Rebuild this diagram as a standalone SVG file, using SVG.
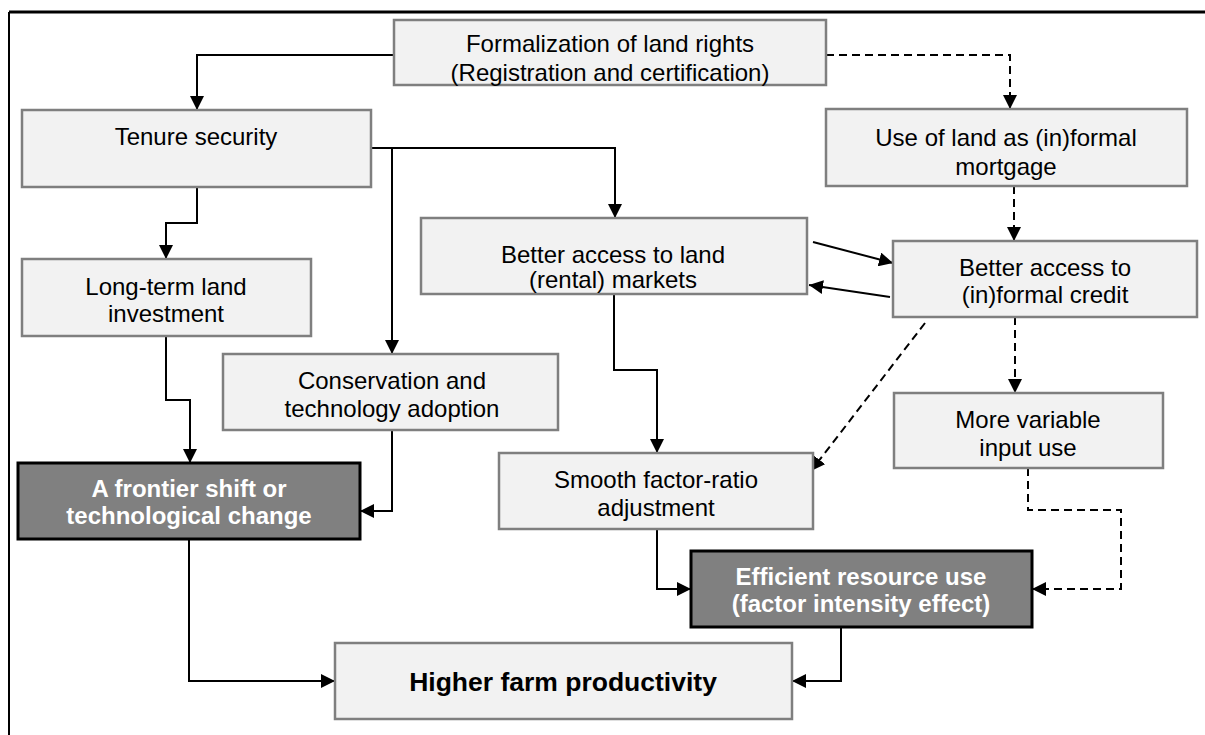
<svg xmlns="http://www.w3.org/2000/svg" width="1205" height="735" viewBox="0 0 1205 735">
<defs>
<marker id="ah" markerUnits="userSpaceOnUse" markerWidth="14" markerHeight="14" viewBox="0 0 14 14" refX="14" refY="7" orient="auto">
<path d="M0,0 L14,7 L0,14 Z" fill="#000"/>
</marker>
</defs>
<style>
.n{fill:#f2f2f2;stroke:#7f7f7f;stroke-width:2.5}
.d{fill:#808080;stroke:#000;stroke-width:3}
.t{font-family:"Liberation Sans",Arial,sans-serif;font-size:24px;fill:#000;text-anchor:middle;dominant-baseline:central}
.w{font-family:"Liberation Sans",Arial,sans-serif;font-size:24px;font-weight:bold;fill:#fff;text-anchor:middle;dominant-baseline:central}
.b{font-family:"Liberation Sans",Arial,sans-serif;font-size:26.5px;font-weight:bold;fill:#000;text-anchor:middle;dominant-baseline:central}
.c{fill:none;stroke:#000;stroke-width:2;marker-end:url(#ah)}
.k{fill:none;stroke:#000;stroke-width:2;stroke-dasharray:8,5;marker-end:url(#ah)}
</style>
<rect width="1205" height="735" fill="#fff"/>
<g id="frame" fill="none" stroke="#000">
<path d="M9,12 H1205" stroke-width="3"/>
<path d="M9,12 V735" stroke-width="2"/>
</g>
<g id="connectors">
<path class="c" d="M394,55 H197 V110"/>
<path class="k" d="M826,55 H1010 V109"/>
<path class="c" d="M371,148 H615 V218"/>
<path class="c" d="M392,148 V354"/>
<path class="c" d="M197,187 V223 H166 V259"/>
<path class="k" d="M1014,186 V241"/>
<path class="c" d="M813,242 L893,263"/>
<path class="c" d="M890,297 L809,285"/>
<path class="k" d="M925,323 L811,471"/>
<path class="k" d="M1015,317 V393"/>
<path class="c" d="M166,336 V400 H190 V463"/>
<path class="c" d="M392,430 V511 H360"/>
<path class="c" d="M614,294 V370 H657 V453"/>
<path class="c" d="M657,529 V589 H691"/>
<path class="k" d="M1028,468 V510 H1121 V589 H1032"/>
<path class="c" d="M189,539 V681 H335"/>
<path class="c" d="M841,627 V681 H792"/>
</g>
<g id="formal"><rect class="n" x="394" y="20" width="432" height="65"/><text class="t" x="610" y="43">Formalization of land rights</text><text class="t" x="610" y="72">(Registration and certification)</text></g>
<g id="tenure"><rect class="n" x="22" y="110" width="349" height="77"/><text class="t" x="196" y="136">Tenure security</text></g>
<g id="mortgage"><rect class="n" x="826" y="109" width="361" height="77"/><text class="t" x="1006" y="137">Use of land as (in)formal</text><text class="t" x="1006" y="166">mortgage</text></g>
<g id="longterm"><rect class="n" x="22" y="259" width="289" height="77"/><text class="t" x="166" y="286">Long-term land</text><text class="t" x="166" y="313">investment</text></g>
<g id="landmkt"><rect class="n" x="421" y="218" width="386" height="76"/><text class="t" x="613" y="254">Better access to land</text><text class="t" x="613" y="279">(rental) markets</text></g>
<g id="credit"><rect class="n" x="893" y="241" width="304" height="76"/><text class="t" x="1045" y="267">Better access to</text><text class="t" x="1045" y="294">(in)formal credit</text></g>
<g id="conserv"><rect class="n" x="223" y="354" width="335" height="76"/><text class="t" x="392" y="380">Conservation and</text><text class="t" x="392" y="408">technology adoption</text></g>
<g id="morevar"><rect class="n" x="894" y="393" width="269" height="75"/><text class="t" x="1028" y="419">More variable</text><text class="t" x="1028" y="447">input use</text></g>
<g id="frontier"><rect class="d" x="18" y="463" width="342" height="76"/><text class="w" x="189" y="488">A frontier shift or</text><text class="w" x="189" y="515">technological change</text></g>
<g id="smooth"><rect class="n" x="499" y="453" width="314" height="76"/><text class="t" x="656" y="479">Smooth factor-ratio</text><text class="t" x="656" y="507">adjustment</text></g>
<g id="efficient"><rect class="d" x="691" y="551" width="341" height="76"/><text class="w" x="861" y="576">Efficient resource use</text><text class="w" x="861" y="603">(factor intensity effect)</text></g>
<g id="higher"><rect class="n" x="335" y="643" width="457" height="76"/><text class="b" x="563" y="682">Higher farm productivity</text></g>
</svg>
